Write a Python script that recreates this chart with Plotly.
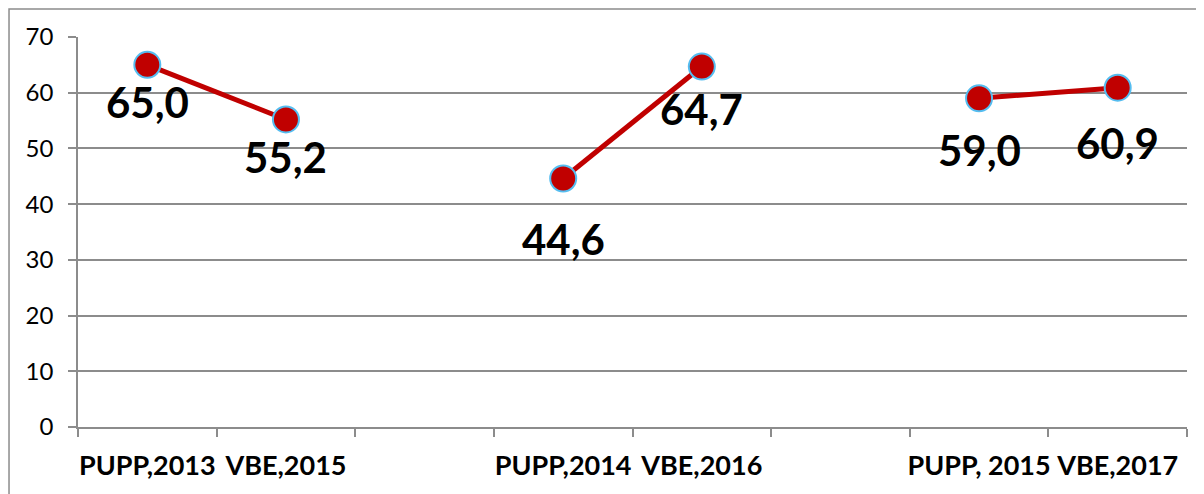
import plotly.graph_objects as go

# categories (empty slots separate the three pairs)
categories = ["PUPP,2013", "VBE,2015", " ", "PUPP,2014", "VBE,2016", "  ", "PUPP, 2015", "VBE,2017"]
values = [65.0, 55.2, None, 44.6, 64.7, None, 59.0, 60.9]
y_ticks = [0, 10, 20, 30, 40, 50, 60, 70]

# label offsets below each point (pixels)
label_dy = [-37, -38, 0, -60, -42, 0, -52, -55]

grey = "#8c8c8c"
red = "#C00000"

fig = go.Figure()
fig.add_trace(go.Scatter(
    x=categories,
    y=values,
    mode="lines+markers",
    connectgaps=False,
    line=dict(color=red, width=5),
    marker=dict(size=26, color=red, line=dict(color="#55BDF0", width=2)),
    hoverinfo="skip",
))

for cat, v, dy in zip(categories, values, label_dy):
    if v is None:
        continue
    fig.add_annotation(
        x=cat, y=v, text=f"{v:.1f}".replace(".", ","),
        showarrow=False, yanchor="middle", xanchor="center", yshift=dy,
        font=dict(family="Lato", size=42, color="black", weight="bold"),
    )

# outer frame of the embedded chart
fig.add_shape(
    type="rect", xref="paper", yref="paper",
    x0=-0.0622, x1=1.2, y0=-0.4, y1=1.0718,
    line=dict(color=grey, width=1.5), fillcolor="rgba(0,0,0,0)",
)

# page body has an 8px margin, so the figure is 8px smaller each way
fig.update_layout(
    width=1196, height=486,
    margin=dict(l=70, r=17, t=29, b=67, autoexpand=False),
    paper_bgcolor="white", plot_bgcolor="white",
    showlegend=False,
    font=dict(family="Lato", color="black"),
)

fig.update_xaxes(
    type="category",
    categoryorder="array", categoryarray=categories,
    range=[-0.5, 7.5],
    tickson="boundaries",
    ticks="outside", ticklen=8, tickcolor=grey, tickwidth=1.5,
    tickangle=0, automargin=False,
    showgrid=False,
    showline=True, linecolor=grey, linewidth=1.5,
    tickfont=dict(family="Lato", size=27, color="black", weight="bold"),
    ticklabelstandoff=14,
)
fig.update_yaxes(
    range=[0, 70],
    tickvals=y_ticks,
    ticks="outside", ticklen=8, tickcolor=grey, tickwidth=1.5,
    automargin=False,
    showgrid=True, gridcolor=grey, gridwidth=1.5,
    showline=True, linecolor=grey, linewidth=1.5,
    zeroline=False,
    tickfont=dict(family="Lato", size=24, color="black"),
    ticklabelstandoff=10,
)

fig.write_html("out.html")
